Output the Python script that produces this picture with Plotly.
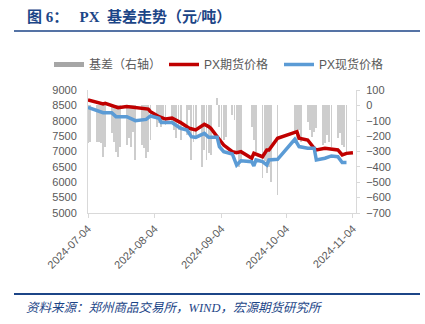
import plotly.graph_objects as go

# ---------------- data ----------------
fut_dates = ["2024-07-04", "2024-07-08", "2024-07-11", "2024-07-12", "2024-07-17", "2024-07-18",
             "2024-07-22", "2024-07-29", "2024-08-01", "2024-08-02", "2024-08-06", "2024-08-09",
             "2024-08-12", "2024-08-16", "2024-08-20", "2024-08-23", "2024-08-27", "2024-08-29",
             "2024-08-30", "2024-09-02", "2024-09-05", "2024-09-09", "2024-09-11", "2024-09-13",
             "2024-09-18", "2024-09-19", "2024-09-23", "2024-09-25", "2024-09-26", "2024-09-30",
             "2024-10-08", "2024-10-09", "2024-10-10", "2024-10-14", "2024-10-17", "2024-10-18",
             "2024-10-22", "2024-10-28", "2024-10-30", "2024-11-01", "2024-11-04"]
fut_price = [8680, 8590, 8545, 8567, 8460, 8425,
             8460, 8405, 8380, 8295, 8133, 8055,
             8090, 7940, 7755, 7700, 7885, 7810,
             7755, 7480, 7210, 6995, 6960, 6995,
             6780, 6940, 6830, 7050, 7050, 7430,
             7600, 7645, 7430, 7375, 7105, 7050,
             7105, 7050, 6890, 6940, 6960]

spot_dates = ["2024-07-04", "2024-07-08", "2024-07-11", "2024-07-15", "2024-07-17", "2024-07-22",
              "2024-07-26", "2024-07-31", "2024-08-02", "2024-08-06", "2024-08-07", "2024-08-12",
              "2024-08-16", "2024-08-19", "2024-08-21", "2024-08-23", "2024-08-27", "2024-08-29",
              "2024-09-02", "2024-09-03", "2024-09-05", "2024-09-09", "2024-09-11", "2024-09-13",
              "2024-09-18", "2024-09-19", "2024-09-20", "2024-09-23", "2024-09-25", "2024-09-26",
              "2024-09-30", "2024-10-08", "2024-10-10", "2024-10-14", "2024-10-17", "2024-10-18",
              "2024-10-22", "2024-10-25", "2024-10-28", "2024-10-30", "2024-11-01"]
spot_price = [8437, 8350, 8262, 8262, 8133, 8133,
              8002, 8045, 8155, 8080, 7940, 7940,
              7755, 7700, 7480, 7460, 7590, 7460,
              7460, 7160, 6995, 6920, 6560, 6700,
              6670, 6530, 6725, 6670, 6560, 6725,
              6745, 7395, 7160, 7105, 7105, 6725,
              6780, 6855, 6830, 6640, 6640]

basis_dates = ["2024-07-04", "2024-07-05", "2024-07-08", "2024-07-09", "2024-07-10", "2024-07-11",
               "2024-07-12", "2024-07-15", "2024-07-16", "2024-07-17", "2024-07-18", "2024-07-19",
               "2024-07-22", "2024-07-23", "2024-07-24", "2024-07-25", "2024-07-26", "2024-07-29",
               "2024-07-30", "2024-07-31", "2024-08-01", "2024-08-02", "2024-08-05", "2024-08-06",
               "2024-08-07", "2024-08-08", "2024-08-09", "2024-08-12", "2024-08-13", "2024-08-14",
               "2024-08-15", "2024-08-16", "2024-08-19", "2024-08-20", "2024-08-21", "2024-08-22",
               "2024-08-23", "2024-08-26", "2024-08-27", "2024-08-28", "2024-08-29", "2024-08-30",
               "2024-09-02", "2024-09-03", "2024-09-04", "2024-09-05", "2024-09-06", "2024-09-09",
               "2024-09-10", "2024-09-11", "2024-09-12", "2024-09-13", "2024-09-18", "2024-09-19",
               "2024-09-20", "2024-09-23", "2024-09-24", "2024-09-25", "2024-09-26", "2024-09-27",
               "2024-09-30", "2024-10-08", "2024-10-09", "2024-10-10", "2024-10-11", "2024-10-14",
               "2024-10-15", "2024-10-16", "2024-10-17", "2024-10-18", "2024-10-21", "2024-10-22",
               "2024-10-23", "2024-10-24", "2024-10-25", "2024-10-28", "2024-10-29", "2024-10-30",
               "2024-10-31", "2024-11-01"]
basis = [-247, -236, -236, -236, -247, -334,
         -269, -182, -236, -301, -334, -269,
         -258, -214, -269, -171, -355, -258,
         -279, -344, -301, -225, -139, -117,
         -139, -117, -125, -117, -160, -214,
         -160, -225, -193, -30, -355, -236,
         -214, -399, -290, -355, -312, -323,
         46, -138, -225, -225, -204, -63,
         -95, -312, -399, -355, -138, -225,
         -301, -470, -360, -440, -400, -500,
         -583, -182, -258, -160, -236, -106,
         -160, -204, -171, -150, -258, -247,
         -193, -236, -269, -214, -182, -258,
         -269, -320]

tick_dates = ["2024-07-04", "2024-08-04", "2024-09-04", "2024-10-04", "2024-11-04"]

# ---------------- style ----------------
NAVY = "#1c4587"
GREY_TXT = "#595959"
AXIS = "#d9d9d9"
CJK = "Liberation Sans, Noto Sans CJK SC, sans-serif"
SERIF = "Liberation Serif, Noto Sans CJK SC, serif"

L, R, T, B = 88, 69, 90, 111
W, H = 425, 324
PW, PH = W - L - R, H - T - B


def px_x(x):
    return (x - L) / PW


def px_y(y):
    return (H - B - y) / PH


NB = "\u00a0"

fig = go.Figure()

fig.add_trace(go.Bar(x=basis_dates, y=basis, yaxis="y", marker_color="#cdcdcd",
                     marker_line_width=0, width=0.38 * 86400000, showlegend=False,
                     name="基差（右轴）"))
fig.add_trace(go.Scatter(x=[None], y=[None], mode="lines", yaxis="y",
                         line=dict(color="#a6a6a6", width=5), name="基差（右轴）"))
fig.add_trace(go.Scatter(x=fut_dates, y=fut_price, mode="lines", yaxis="y2",
                         line=dict(color="#c00000", width=3.5), name="PX期货价格"))
fig.add_trace(go.Scatter(x=spot_dates, y=spot_price, mode="lines", yaxis="y2",
                         line=dict(color="#5b9bd5", width=3.5), name="PX现货价格"))

fig.update_layout(
    width=W, height=H,
    margin=dict(l=L, r=R, t=T, b=B, pad=0, autoexpand=False),
    paper_bgcolor="white", plot_bgcolor="white",
    font=dict(family=CJK, size=11, color=GREY_TXT),
    bargap=0,
    xaxis=dict(type="date", range=["2024-07-04", "2024-11-05 10:00"],
               tickvals=tick_dates, tickformat="%Y-%m-%d", tickangle=-45,
               showgrid=False, showline=True, linecolor=AXIS, linewidth=1,
               ticks="outside", ticklen=4, tickcolor=AXIS, zeroline=False, automargin=False,
               tickfont=dict(size=11, color=GREY_TXT)),
    yaxis=dict(side="right", range=[-700, 100], dtick=100, showgrid=False,
               showline=True, linecolor=AXIS, ticks="outside", ticklen=3, tickcolor=AXIS,
               zeroline=False, automargin=False, ticklabelstandoff=4,
               tickfont=dict(size=11, color=GREY_TXT)),
    yaxis2=dict(side="left", overlaying="y", range=[5000, 9000], dtick=500,
                showgrid=False, showline=True, linecolor=AXIS, ticks="",
                zeroline=False, automargin=False, ticklabelstandoff=8,
                tickfont=dict(size=11, color=GREY_TXT)),
    legend=dict(orientation="h", xref="paper", yref="paper",
                x=px_x(49), y=px_y(50), xanchor="left", yanchor="top",
                font=dict(size=12, color=GREY_TXT), itemwidth=30,
                entrywidthmode="pixels", entrywidth=70,
                bgcolor="rgba(0,0,0,0)", tracegroupgap=0),
    showlegend=True,
)

title_txt = "图" + NB + "6：" + NB * 3 + "PX" + NB * 2 + "基差走势（元/吨）"
fig.add_annotation(xref="paper", yref="paper", x=px_x(25), y=px_y(16),
                   xanchor="left", yanchor="middle", showarrow=False,
                   text="<b>" + title_txt + "</b>",
                   font=dict(family=SERIF, size=15, color=NAVY))
fig.add_annotation(xref="paper", yref="paper", x=px_x(24), y=px_y(308),
                   xanchor="left", yanchor="middle", showarrow=False,
                   text="<i>资料来源：郑州商品交易所，WIND，宏源期货研究所</i>",
                   font=dict(family=SERIF, size=12.5, color=NAVY))
fig.add_shape(type="line", xref="paper", yref="paper", x0=px_x(14), x1=px_x(420),
              y0=px_y(31), y1=px_y(31), line=dict(color=NAVY, width=1.5))
fig.add_shape(type="line", xref="paper", yref="paper", x0=px_x(14), x1=px_x(420),
              y0=px_y(294), y1=px_y(294), line=dict(color=NAVY, width=2))

fig.write_html("out.html")
